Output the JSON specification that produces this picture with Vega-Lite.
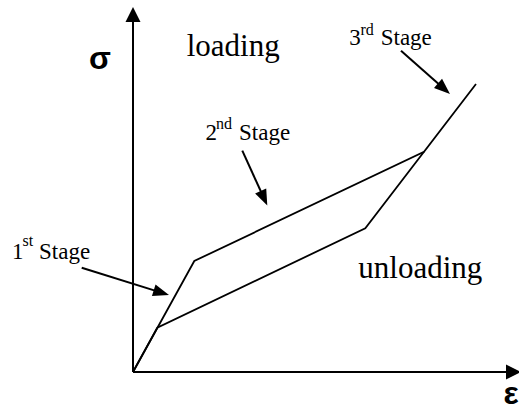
{
  "$schema": "https://vega.github.io/schema/vega-lite/v6.json",
  "width": 519,
  "height": 409,
  "padding": 0,
  "autosize": {"type": "none"},
  "background": "white",
  "config": {"view": {"stroke": null}},
  "datasets": {
    "arrows": [
      {"kind": "axis", "x": 0, "y": 0, "x2": 0, "y2": 365},
      {"kind": "axis", "x": 0, "y": 0, "x2": 388, "y2": 0},
      {"kind": "pointer", "x": -51.3, "y": 104.3, "x2": 36, "y2": 77},
      {"kind": "pointer", "x": 109.3, "y": 221.3, "x2": 134.3, "y2": 166.5},
      {"kind": "pointer", "x": 268, "y": 321.3, "x2": 317, "y2": 278}
    ],
    "curve": [
      {"branch": "loading", "step": 1, "x": 0, "y": 0},
      {"branch": "loading", "step": 2, "x": 61.3, "y": 111},
      {"branch": "loading", "step": 3, "x": 291, "y": 220.3},
      {"branch": "loading", "step": 4, "x": 343, "y": 288},
      {"branch": "unloading", "step": 1, "x": 291, "y": 220.3},
      {"branch": "unloading", "step": 2, "x": 232.3, "y": 143.7},
      {"branch": "unloading", "step": 3, "x": 24.3, "y": 44.3},
      {"branch": "unloading", "step": 4, "x": 0, "y": 0}
    ],
    "labels": [
      {"kind": "big", "text": "loading", "x": 53.7, "y": 316.3},
      {"kind": "big", "text": "unloading", "x": 225.3, "y": 93.7},
      {"kind": "stage", "text": "1", "x": -121, "y": 113.3},
      {"kind": "sup", "text": "st", "x": -110.5, "y": 126},
      {"kind": "stage", "text": "Stage", "x": -94, "y": 113.3},
      {"kind": "stage", "text": "2", "x": 72.5, "y": 232},
      {"kind": "sup", "text": "nd", "x": 83, "y": 243},
      {"kind": "stage", "text": "Stage", "x": 106, "y": 232},
      {"kind": "stage", "text": "3", "x": 216.3, "y": 327},
      {"kind": "sup", "text": "rd", "x": 227.5, "y": 337},
      {"kind": "stage", "text": "Stage", "x": 247.7, "y": 327},
      {"kind": "symbol", "text": "σ", "x": -33, "y": 303},
      {"kind": "symbol", "text": "ε", "x": 378, "y": -32}
    ]
  },
  "layer": [
    {
      "data": {"name": "curve"},
      "mark": {"type": "line", "color": "black", "strokeWidth": 1.8, "strokeJoin": "miter"},
      "encoding": {
        "x": {"field": "x", "type": "quantitative", "scale": {"domain": [-133, 386], "nice": false, "zero": false}, "axis": null},
        "y": {"field": "y", "type": "quantitative", "scale": {"domain": [-37, 372], "nice": false, "zero": false}, "axis": null},
        "detail": {"field": "branch"},
        "order": {"field": "step", "type": "quantitative"}
      }
    },
    {
      "data": {"name": "arrows"},
      "transform": [
        {"calculate": "sqrt(pow(datum.x2 - datum.x, 2) + pow(datum.y2 - datum.y, 2))", "as": "len"},
        {"calculate": "datum.x2 - 8 * (datum.x2 - datum.x) / datum.len", "as": "ex"},
        {"calculate": "datum.y2 - 8 * (datum.y2 - datum.y) / datum.len", "as": "ey"}
      ],
      "mark": {"type": "rule", "color": "black", "strokeWidth": 2},
      "encoding": {
        "x": {"field": "x", "type": "quantitative", "scale": {"domain": [-133, 386], "nice": false, "zero": false}, "axis": null},
        "y": {"field": "y", "type": "quantitative", "scale": {"domain": [-37, 372], "nice": false, "zero": false}, "axis": null},
        "x2": {"field": "ex"},
        "y2": {"field": "ey"}
      }
    },
    {
      "data": {"name": "arrows"},
      "transform": [
        {"filter": "datum.kind === 'axis'"},
        {"calculate": "atan2(datum.x2 - datum.x, datum.y2 - datum.y) * 180 / PI", "as": "angle"}
      ],
      "mark": {"type": "point", "shape": "M0,0L-0.5,1L0.5,1Z", "size": 900, "filled": true, "color": "black", "opacity": 1, "strokeWidth": 0},
      "encoding": {
        "x": {"field": "x2", "type": "quantitative", "scale": {"domain": [-133, 386], "nice": false, "zero": false}, "axis": null},
        "y": {"field": "y2", "type": "quantitative", "scale": {"domain": [-37, 372], "nice": false, "zero": false}, "axis": null},
        "angle": {"field": "angle", "type": "quantitative", "scale": null}
      }
    },
    {
      "data": {"name": "arrows"},
      "transform": [
        {"filter": "datum.kind === 'pointer'"},
        {"calculate": "atan2(datum.x2 - datum.x, datum.y2 - datum.y) * 180 / PI", "as": "angle"}
      ],
      "mark": {"type": "point", "shape": "M0,0L-0.38,1L0.38,1Z", "size": 1024, "filled": true, "color": "black", "opacity": 1, "strokeWidth": 0},
      "encoding": {
        "x": {"field": "x2", "type": "quantitative", "scale": {"domain": [-133, 386], "nice": false, "zero": false}, "axis": null},
        "y": {"field": "y2", "type": "quantitative", "scale": {"domain": [-37, 372], "nice": false, "zero": false}, "axis": null},
        "angle": {"field": "angle", "type": "quantitative", "scale": null}
      }
    },
    {
      "data": {"name": "labels"},
      "transform": [{"filter": "datum.kind === 'big'"}],
      "mark": {"type": "text", "font": "Liberation Serif", "fontSize": 31, "align": "left", "baseline": "alphabetic", "color": "black"},
      "encoding": {
        "x": {"field": "x", "type": "quantitative", "scale": {"domain": [-133, 386], "nice": false, "zero": false}, "axis": null},
        "y": {"field": "y", "type": "quantitative", "scale": {"domain": [-37, 372], "nice": false, "zero": false}, "axis": null},
        "text": {"field": "text"}
      }
    },
    {
      "data": {"name": "labels"},
      "transform": [{"filter": "datum.kind === 'stage'"}],
      "mark": {"type": "text", "font": "Liberation Serif", "fontSize": 23, "align": "left", "baseline": "alphabetic", "color": "black"},
      "encoding": {
        "x": {"field": "x", "type": "quantitative", "scale": {"domain": [-133, 386], "nice": false, "zero": false}, "axis": null},
        "y": {"field": "y", "type": "quantitative", "scale": {"domain": [-37, 372], "nice": false, "zero": false}, "axis": null},
        "text": {"field": "text"}
      }
    },
    {
      "data": {"name": "labels"},
      "transform": [{"filter": "datum.kind === 'sup'"}],
      "mark": {"type": "text", "font": "Liberation Serif", "fontSize": 16, "align": "left", "baseline": "alphabetic", "color": "black"},
      "encoding": {
        "x": {"field": "x", "type": "quantitative", "scale": {"domain": [-133, 386], "nice": false, "zero": false}, "axis": null},
        "y": {"field": "y", "type": "quantitative", "scale": {"domain": [-37, 372], "nice": false, "zero": false}, "axis": null},
        "text": {"field": "text"}
      }
    },
    {
      "data": {"name": "labels"},
      "transform": [{"filter": "datum.kind === 'symbol'"}],
      "mark": {"type": "text", "font": "Liberation Sans", "fontWeight": "bold", "fontSize": 32, "align": "center", "baseline": "alphabetic", "color": "black"},
      "encoding": {
        "x": {"field": "x", "type": "quantitative", "scale": {"domain": [-133, 386], "nice": false, "zero": false}, "axis": null},
        "y": {"field": "y", "type": "quantitative", "scale": {"domain": [-37, 372], "nice": false, "zero": false}, "axis": null},
        "text": {"field": "text"}
      }
    }
  ]
}
